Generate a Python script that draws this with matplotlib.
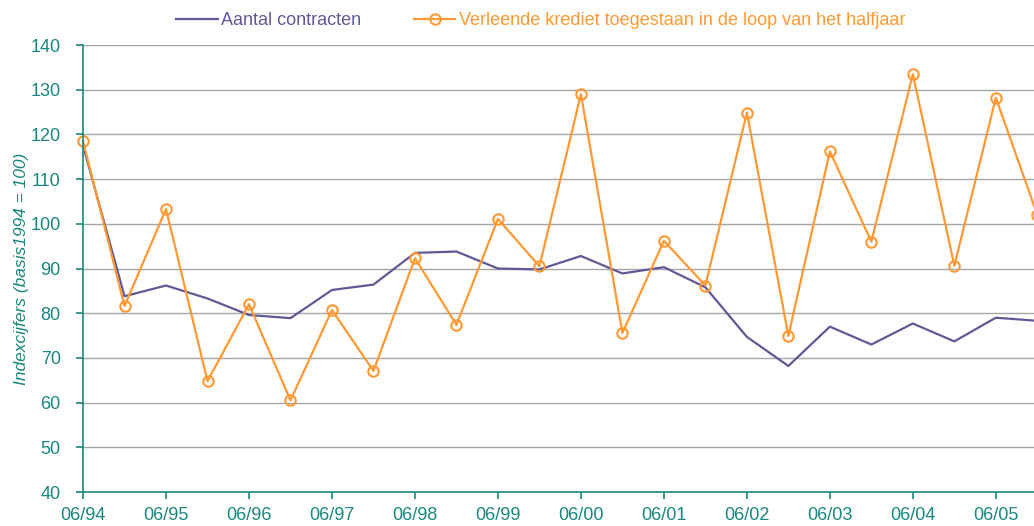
import matplotlib
matplotlib.use("Agg")
import matplotlib.pyplot as plt

plt.rcParams.update({"font.family": ["Liberation Sans", "DejaVu Sans"]})
TEAL = "#17877f"; PURPLE = "#5e5a97"; ORANGE = "#ff9933"; GRID = "#a6a6a6"

# half-year periods, 06/94 .. 12/05 (last one cut off at the right edge)
periods = ["06/94", "12/94", "06/95", "12/95", "06/96", "12/96", "06/97", "12/97",
           "06/98", "12/98", "06/99", "12/99", "06/00", "12/00", "06/01", "12/01",
           "06/02", "12/02", "06/03", "12/03", "06/04", "12/04", "06/05", "12/05"]
contracten = [117.5, 83.8, 86.2, 83.3, 79.6, 78.9, 85.2, 86.4, 93.5, 93.8, 90.0, 89.8,
              92.8, 88.9, 90.3, 85.8, 74.7, 68.2, 77.0, 73.0, 77.7, 73.7, 79.0, 78.3]
krediet = [118.5, 81.6, 103.3, 64.8, 82.0, 60.5, 80.7, 67.1, 92.3, 77.4, 101.1, 90.5,
           129.0, 75.6, 96.2, 86.2, 124.9, 74.9, 116.2, 96.0, 133.5, 90.6, 128.2, 102.0]
tick_labels = periods[::2]

x = list(range(len(periods)))

fig = plt.figure(figsize=(10.34, 5.26), dpi=100)
ax = fig.add_axes([0.0803, 0.0646, 0.9197, 0.8498])

ax.plot(x, contracten, color=PURPLE, lw=1.6, label="Aantal contracten")
ax.plot(x, krediet, color=ORANGE, lw=1.6, marker="o", ms=7.5, mfc="none", mew=1.5,
        clip_on=False, label="Verleende krediet toegestaan in de loop van het halfjaar")

ax.set_xlim(0, 22.92)
ax.set_ylim(40, 140)
ax.set_yticks(range(40, 141, 10))
ax.set_xticks(x[::2])
ax.set_xticklabels(tick_labels)
ax.yaxis.grid(True, color=GRID, lw=1)
ax.set_axisbelow(True)
for s in ["top", "right"]:
    ax.spines[s].set_visible(False)
for s in ["left", "bottom"]:
    ax.spines[s].set_color(TEAL)
    ax.spines[s].set_linewidth(1.2)
ax.tick_params(colors=TEAL, labelsize=13, length=5, width=1.2, direction="out")
ax.tick_params(axis="x", pad=6)
ax.tick_params(axis="y", pad=11)
ax.set_ylabel("Indexcijfers (basis1994 = 100)", color=TEAL, fontsize=12.5, style="italic", labelpad=1)

leg = ax.legend(loc="lower left", bbox_to_anchor=(0.098, 1.035), ncol=2, frameon=False,
                fontsize=13, handlelength=2.3, columnspacing=2.9, handletextpad=0.2,
                borderaxespad=0, borderpad=0)
for t, c in zip(leg.get_texts(), [PURPLE, ORANGE]):
    t.set_color(c)

plt.savefig("out.png", dpi=100)
